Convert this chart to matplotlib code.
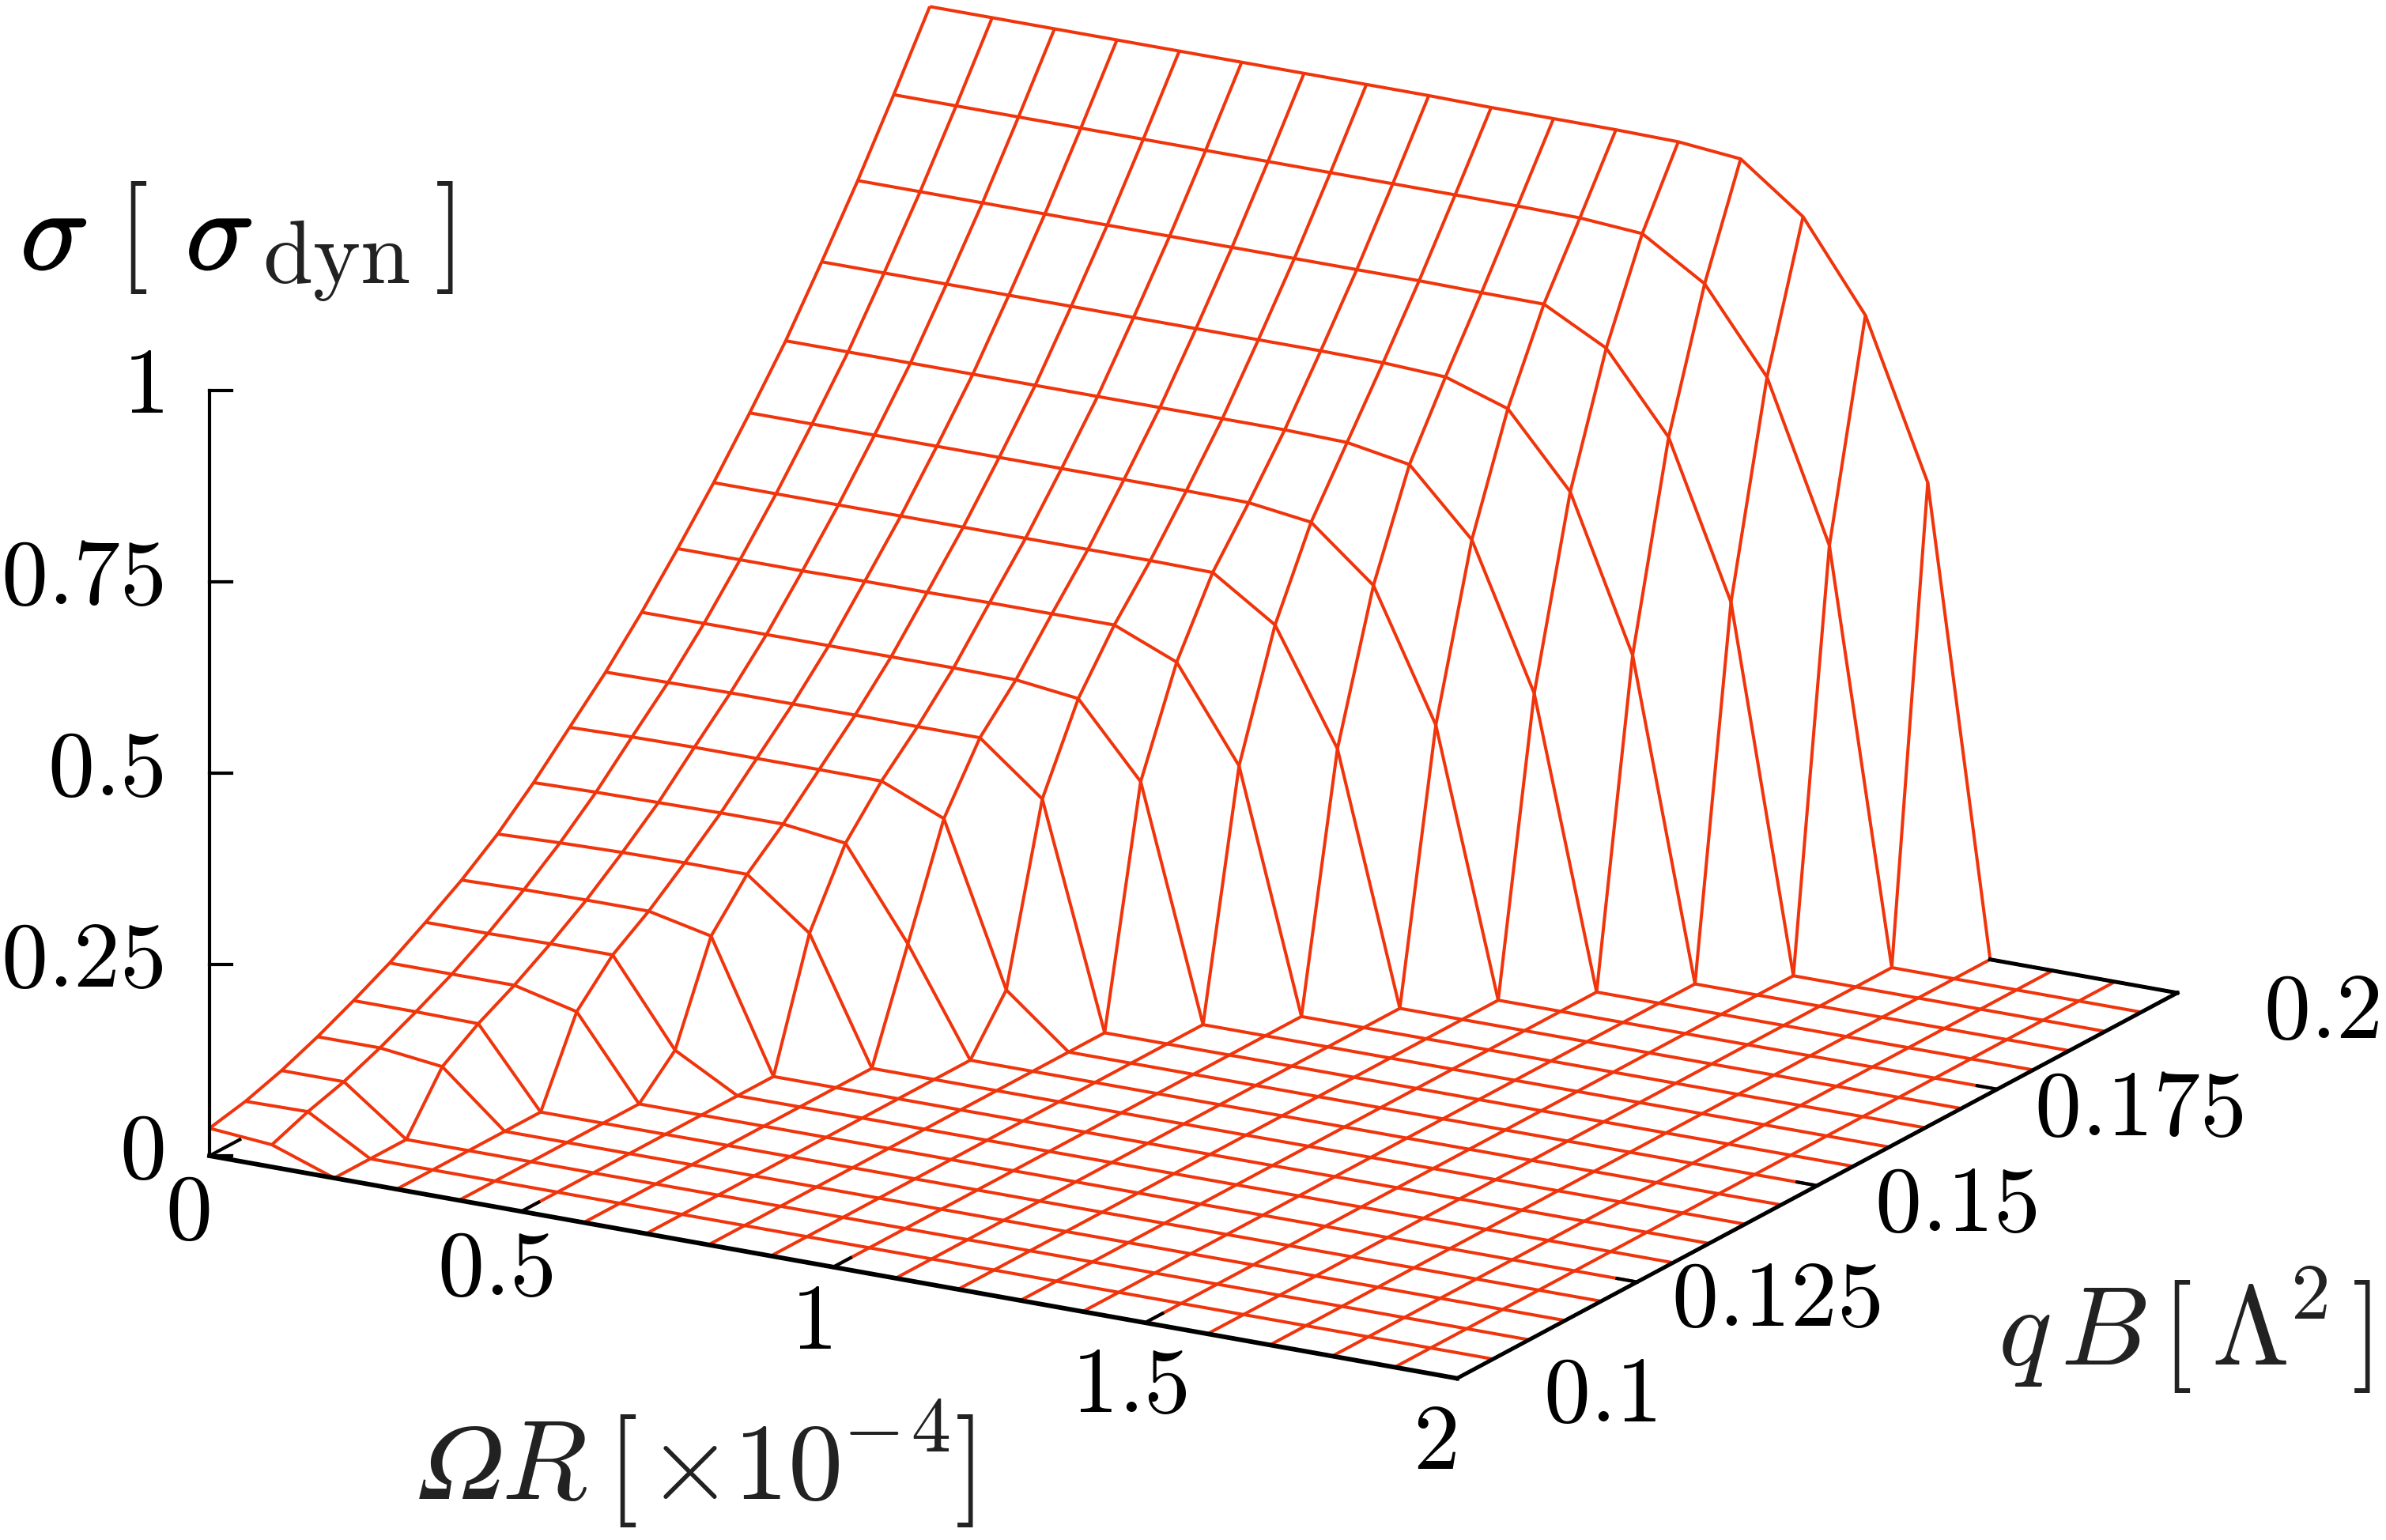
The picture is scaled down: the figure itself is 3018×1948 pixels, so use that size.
import numpy as np
import matplotlib
matplotlib.use("Agg")
import matplotlib.pyplot as plt
import matplotlib.patheffects as pe
from mpl_toolkits.mplot3d import proj3d

plt.rcParams['mathtext.fontset'] = 'cm'

W, H = 3018, 1949
RED = '#f0340c'
BLACK = '#000000'
DARK = '#222222'

omega = [round(0.1 * i, 1) for i in range(21)]
qb = [round(0.1 + 0.005 * j, 3) for j in range(21)]

sigma_rows = [
    [.036, .029],
    [.046, .047],
    [.061, .061],
    [.080, .080, .070],
    [.102, .102, .101],
    [.126, .126, .126, .106],
    [.154, .154, .155, .155, .045],
    [.184, .186, .187, .187, .169],
    [.219, .222, .224, .225, .2245, .162],
    [.261, .263, .264, .265, .265, .2545, .1375],
    [.308, .310, .311, .311, .311, .3105, .276, .0667],
    [.355, .356, .357, .357, .357, .3565, .3565, .291],
    [.408, .408, .408, .408, .408, .408, .407, .397, .303],
    [.466, .466, .466, .467, .467, .468, .468, .468, .434, .313],
    [.527, .527, .527, .527, .527, .527, .527, .527, .526, .472, .3247],
    [.593, .593, .593, .593, .593, .593, .593, .593, .592, .581, .513, .345],
    [.662, .662, .662, .662, .662, .662, .662, .662, .662, .660, .6457, .562, .3757],
    [.740, .740, .740, .740, .740, .740, .740, .740, .740, .739, .735, .708, .614, .415],
    [.821, .821, .821, .821, .821, .821, .821, .821, .821, .821, .820, .8195, .7765, .6746, .4736],
    [.908, .908, .908, .908, .908, .908, .908, .908, .908, .908, .908, .907, .901, .850, .7425, .537],
    [.998, .998, .998, .998, .998, .998, .998, .998, .998, .997, .997, .997, .9958, .988, .927, .8127, .6085],
]

z_ticks = [0, 0.25, 0.5, 0.75, 1]
z_tick_labels = ['0', '0.25', '0.5', '0.75', '1']
x_ticks = [0.5, 1, 1.5]
x_tick_labels = ['0', '0.5', '1', '1.5', '2']
y_ticks = [0.125, 0.15, 0.175]
y_tick_labels = ['0.1', '0.125', '0.15', '0.175', '0.2']

fig = plt.figure(figsize=(W / 100, H / 100), dpi=100, facecolor='white')
S = 3600
ax = fig.add_axes([(W - S) / 2 / W, (H - S) / 2 / H, S / W, S / H], projection='3d', proj_type='ortho')
ax.set_axis_off()
ax.patch.set_alpha(0)
ax.computed_zorder = False
ax.view_init(elev=18, azim=-60)

sigma = np.array([r + [0.0] * (21 - len(r)) for r in sigma_rows])
X, Y = np.meshgrid(omega, qb)
ax.plot_wireframe(X, Y, sigma, rstride=1, cstride=1, color=RED, linewidth=2.9, zorder=1)

def seg(x, y, z, lw):
    ax.plot(x, y, z, color=BLACK, lw=lw, zorder=3, solid_capstyle='projecting')

seg([0, 2], [0.1, 0.1], [0, 0], 4.2)
seg([2, 2], [0.1, 0.2], [0, 0], 3.6)
seg([1.7, 2], [0.2, 0.2], [0, 0], 3.6)
seg([0, 0], [0.1, 0.1], [0, 1], 3.0)
seg([0, 0], [0.1, 0.1042], [0, 0], 3.0)
for zt in z_ticks:
    seg([0, 0.0266], [0.1, 0.10077], [zt, zt], 3.0)
for xt in x_ticks:
    seg([xt, xt], [0.1, 0.1024], [0, 0], 3.0)
for yt in y_ticks:
    seg([2, 1.968], [yt, yt], [0, 0], 3.0)

ax.set_xlim(0, 2)
ax.set_ylim(0.1, 0.2)
ax.set_zlim(0, 1)

ASPECT = (1, 1, 0.5586)

def px(x, y, z):
    ax.apply_aspect()
    xs, ys, _ = proj3d.proj_transform(x, y, z, ax.get_proj())
    return ax.transData.transform((xs, ys))

zoom = 1.0
ax.set_box_aspect(ASPECT, zoom=zoom)
length = px(0, 0.1, 1)[1] - px(0, 0.1, 0)[1]
zoom *= 968 / length
ax.set_box_aspect(ASPECT, zoom=zoom)
o = px(0, 0.1, 0)
dx, dy = 265 - o[0], (H - 1463) - o[1]
pos = ax.get_position(original=True)
ax.set_position([pos.x0 + dx / W, pos.y0 + dy / H, pos.width, pos.height])


def txt(xp, yp, s, size, color=BLACK, ha='left', **kw):
    return fig.text(xp / W, 1 - yp / H, s, fontsize=size, color=color, ha=ha, va='baseline', **kw)


TICK = 85
for lab, tick in zip(z_tick_labels, z_ticks):
    txt(207, 1490 - 968 * tick, rf'$\mathrm{{{lab}}}$', TICK, ha='right')

for lab, (xp, yp) in zip(x_tick_labels, [(265, 1567), (700, 1638), (1052, 1706), (1502, 1786), (1842, 1858)]):
    txt(xp, yp, rf'$\mathrm{{{lab}}}$', TICK, ha='right')

for lab, (xp, yp) in zip(y_tick_labels, [(2095, 1798), (2379, 1677), (2577, 1557), (2838, 1436), (3010, 1313)]):
    txt(xp, yp, rf'$\mathrm{{{lab}}}$', TICK, ha='right')

# z label
bold = [pe.withStroke(linewidth=1.6, foreground=BLACK)]
txt(26, 342, r'$\sigma$', 104, path_effects=bold)
txt(148, 336, r'$[$', 102, DARK)
txt(235, 342, r'$\sigma$', 104, path_effects=bold)
txt(332, 358, r'$\mathrm{dyn}$', 82, DARK)
txt(549, 336, r'$]$', 102, DARK)

# q B label
txt(2527, 1726, r'$q$', 102, DARK)
txt(2606, 1726, r'$B$', 102, DARK)
txt(2733, 1726, r'$[$', 102, DARK)
txt(2797, 1726, r'$\Lambda$', 102, DARK)
txt(2897, 1668, r'$2$', 72, DARK)
txt(2974, 1726, r'$]$', 102, DARK)

# Omega R label
txt(531, 1896, 'Ω', 100, DARK, family='STIXGeneral', style='italic')
txt(634, 1896, r'$R$', 102, DARK)
txt(767, 1896, r'$[$', 102, DARK)
txt(818, 1896, r'$\times$', 100, DARK)
txt(927, 1896, r'$\mathrm{10}$', 100, DARK)
txt(1066, 1836, r'$-$', 72, DARK)
txt(1152, 1836, r'$4$', 72, DARK)
txt(1207, 1896, r'$]$', 102, DARK)

fig.savefig('out.png', dpi=100, facecolor='white')
